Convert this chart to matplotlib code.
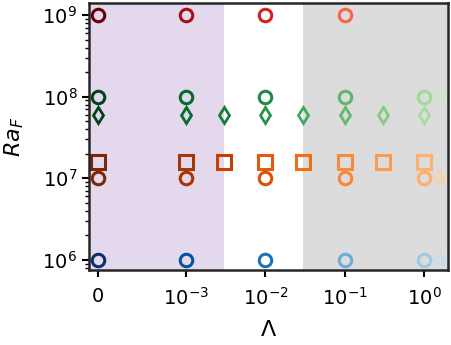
import matplotlib
matplotlib.use('Agg')
import matplotlib.pyplot as plt

# data
lam_main = [0, 1e-3, 1e-2, 1e-1, 1]
lam_fine = [0, 1e-3, 3e-3, 1e-2, 3e-2, 1e-1, 3e-1, 1]
lam_star = 1.6

ra_circles = [1e9, 1e8, 1e7, 1e6]
circle_colors = {
    1e9: ['#67000d', '#a50f15', '#d52221', '#fb6445'],
    1e8: ['#00441b', '#006d2c', '#238b45', '#5db96b', '#a1d99b'],
    1e7: ['#7f2704', '#a63603', '#df5005', '#f8873a', '#fdae6b'],
    1e6: ['#08306b', '#08519c', '#2171b5', '#6baed6', '#9ecae1'],
}
star_ra = [1e8, 1e7, 1e6]
star_colors = ['#c7e9c0', '#fdd0a2', '#c6dbef']

ra_squares = 1.6e7
square_colors = ['#7f2704', '#a63603', '#c44103', '#e5590a', '#f26b15',
                 '#f98a3a', '#fd9c51', '#fdb070']
ra_diamonds = 6e7
diamond_colors = ['#00441b', '#006d2c', '#137e3a', '#2a924a', '#40aa5d',
                  '#60ba6c', '#84cc83', '#a6dba0']

fig, ax = plt.subplots(figsize=(4.52, 3.45), dpi=100)
fig.subplots_adjust(left=0.197, right=0.991, top=0.991, bottom=0.217)

ax.set_xscale('symlog', linthresh=1e-3, linscale=1)
ax.set_yscale('log')

# shaded regimes
ax.axvspan(-1e-4, 3e-3, color='#e4d8ed', zorder=0, lw=0)
ax.axvspan(3e-2, 2, color='#dcdcdc', zorder=0, lw=0)

for ra in ra_circles:
    for x, c in zip(lam_main, circle_colors[ra]):
        ax.plot(x, ra, 'o', ms=9, mfc='none', mec=c, mew=2.2)

for x, c in zip(lam_fine, square_colors):
    ax.plot(x, ra_squares, 's', ms=10.5, mfc='none', mec=c, mew=2.2)

for x, c in zip(lam_fine, diamond_colors):
    ax.plot(x, ra_diamonds, 'd', ms=8, mfc='none', mec=c, mew=2)

for ra, c in zip(star_ra, star_colors):
    ax.plot(lam_star, ra, '*', ms=11, mfc='none', mec=c, mew=1.3)

ax.set_xlim(-1e-4, 2)
ax.set_ylim(7.5e5, 1.4e9)
ax.set_xticks([0, 1e-3, 1e-2, 1e-1, 1])
ax.set_xticklabels(['$0$', '$10^{-3}$', '$10^{-2}$', '$10^{-1}$', '$10^{0}$'])
ax.xaxis.set_minor_locator(matplotlib.ticker.NullLocator())
ax.tick_params(labelsize=14, width=1.5, length=5)
ax.tick_params(axis='x', pad=7)
ax.tick_params(which='minor', width=1, length=3)
for s in ax.spines.values():
    s.set_linewidth(1.8)
    s.set_color('#262626')

ax.set_xlabel(r'$\Lambda$', fontsize=16, labelpad=8)
ax.set_ylabel(r'$Ra_F$', fontsize=16, labelpad=12)

plt.savefig('out.png', dpi=100)
